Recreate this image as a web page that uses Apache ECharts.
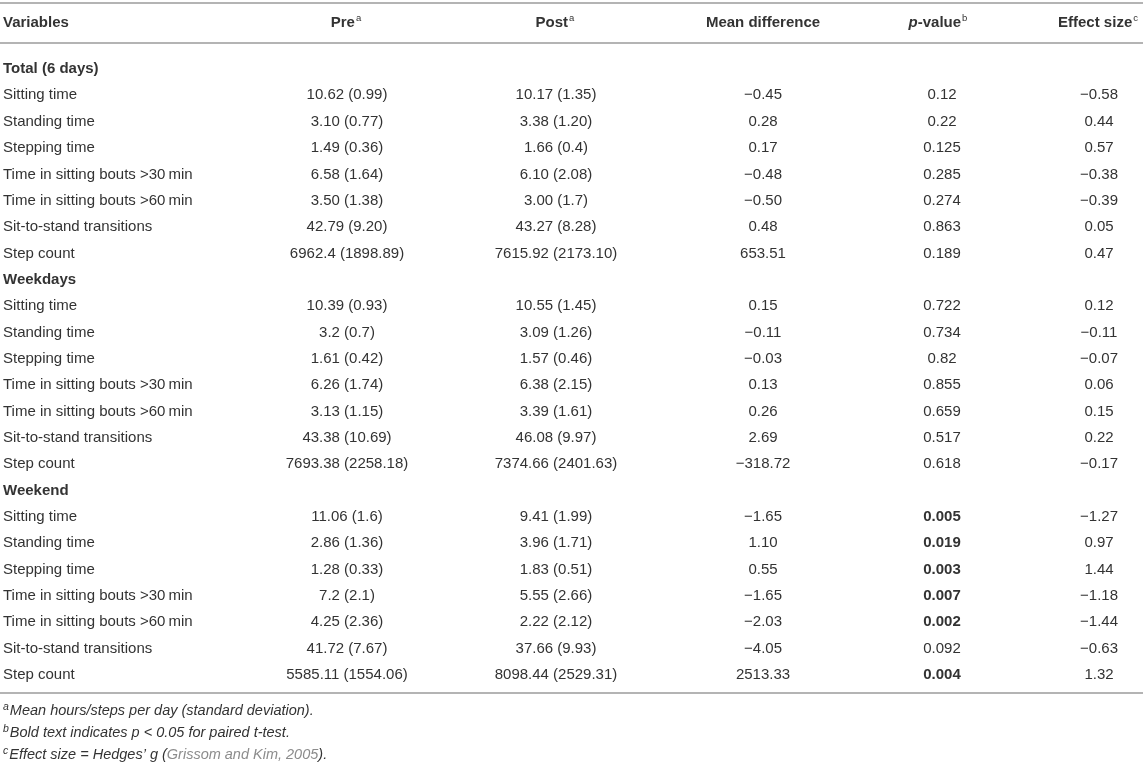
<!DOCTYPE html>
<html>
<head>
<meta charset="utf-8">
<script src="https://cdn.jsdelivr.net/npm/echarts@6/dist/echarts.min.js"></script>
<style>
  html, body { margin: 0; padding: 0; background: #fff; }
  #table-chart { width: 1143px; height: 763px; }
</style>
</head>
<body>
<div id="table-chart"></div>
<script>
var sections = ['Total (6 days)', 'Weekdays', 'Weekend'];
var variables = ['Sitting time', 'Standing time', 'Stepping time',
    'Time in sitting bouts >30\u2009min', 'Time in sitting bouts >60\u2009min',
    'Sit-to-stand transitions', 'Step count'];

// one array per section, rows follow the variables list
var preValues = [
    ['10.62 (0.99)', '3.10 (0.77)', '1.49 (0.36)', '6.58 (1.64)', '3.50 (1.38)', '42.79 (9.20)', '6962.4 (1898.89)'],
    ['10.39 (0.93)', '3.2 (0.7)', '1.61 (0.42)', '6.26 (1.74)', '3.13 (1.15)', '43.38 (10.69)', '7693.38 (2258.18)'],
    ['11.06 (1.6)', '2.86 (1.36)', '1.28 (0.33)', '7.2 (2.1)', '4.25 (2.36)', '41.72 (7.67)', '5585.11 (1554.06)']
];
var postValues = [
    ['10.17 (1.35)', '3.38 (1.20)', '1.66 (0.4)', '6.10 (2.08)', '3.00 (1.7)', '43.27 (8.28)', '7615.92 (2173.10)'],
    ['10.55 (1.45)', '3.09 (1.26)', '1.57 (0.46)', '6.38 (2.15)', '3.39 (1.61)', '46.08 (9.97)', '7374.66 (2401.63)'],
    ['9.41 (1.99)', '3.96 (1.71)', '1.83 (0.51)', '5.55 (2.66)', '2.22 (2.12)', '37.66 (9.93)', '8098.44 (2529.31)']
];
var meanDiff = [
    ['\u22120.45', '0.28', '0.17', '\u22120.48', '\u22120.50', '0.48', '653.51'],
    ['0.15', '\u22120.11', '\u22120.03', '0.13', '0.26', '2.69', '\u2212318.72'],
    ['\u22121.65', '1.10', '0.55', '\u22121.65', '\u22122.03', '\u22124.05', '2513.33']
];
var pValues = [
    ['0.12', '0.22', '0.125', '0.285', '0.274', '0.863', '0.189'],
    ['0.722', '0.734', '0.82', '0.855', '0.659', '0.517', '0.618'],
    ['0.005', '0.019', '0.003', '0.007', '0.002', '0.092', '0.004']
];
var effectSize = [
    ['\u22120.58', '0.44', '0.57', '\u22120.38', '\u22120.39', '0.05', '0.47'],
    ['0.12', '\u22120.11', '\u22120.07', '0.06', '0.15', '0.22', '\u22120.17'],
    ['\u22121.27', '0.97', '1.44', '\u22121.18', '\u22121.44', '\u22120.63', '1.32']
];

// layout (pixel x of each column)
var colX = [3, 347, 556, 763, 942, 1099];
var FONT = '"Liberation Sans", Arial, Helvetica, sans-serif';
var SIZE = 15;
var TEXT = '#333';
var RULE = '#b4b4b4';
var ROW_H = 26.35;

var rowNames = [];
var cells = [];
sections.forEach(function (sec, s) {
    var r = rowNames.length;
    rowNames.push(sec);
    cells.push({value: [colX[0], r], text: sec, kind: 'section'});
    variables.forEach(function (v, i) {
        var row = rowNames.length;
        rowNames.push(sec + ' / ' + v);
        cells.push({value: [colX[0], row], text: v, kind: 'label'});
        cells.push({value: [colX[1], row], text: preValues[s][i], kind: 'num'});
        cells.push({value: [colX[2], row], text: postValues[s][i], kind: 'num'});
        cells.push({value: [colX[3], row], text: meanDiff[s][i], kind: 'num'});
        cells.push({value: [colX[4], row], text: pValues[s][i],
            kind: parseFloat(pValues[s][i]) < 0.05 ? 'sig' : 'num'});
        cells.push({value: [colX[5], row], text: effectSize[s][i], kind: 'num'});
    });
});

function headerText(x, y, parts, align) {
    return {
        type: 'text', x: x, y: y, silent: true,
        style: {
            text: parts, align: align, verticalAlign: 'middle',
            fill: TEXT, font: 'bold ' + SIZE + 'px ' + FONT,
            rich: {
                h: {fontFamily: FONT, fontWeight: 'bold', fontSize: SIZE, fill: TEXT},
                hi: {fontFamily: FONT, fontWeight: 'bold', fontStyle: 'italic', fontSize: SIZE, fill: TEXT},
                sup: {fontFamily: FONT, fontSize: 9.5, fill: TEXT, padding: [0, 0, 9, 1]}
            }
        }
    };
}

function rule(y) {
    return {
        type: 'line', silent: true,
        shape: {x1: 0, y1: y, x2: 1143, y2: y},
        style: {stroke: RULE, lineWidth: 2}
    };
}

function footnote(y, parts) {
    return {
        type: 'text', x: 3, y: y, silent: true,
        style: {
            text: parts, align: 'left', verticalAlign: 'middle',
            fill: TEXT, font: 'italic 14.5px ' + FONT,
            rich: {
                f: {fontFamily: FONT, fontStyle: 'italic', fontSize: 14.5, fill: TEXT},
                g: {fontFamily: FONT, fontStyle: 'italic', fontSize: 14.5, fill: '#8c8c8c'},
                sup: {fontFamily: FONT, fontStyle: 'italic', fontSize: 10.5, fill: TEXT, padding: [0, 1, 7, 0]}
            }
        }
    };
}

var tableChart = echarts.init(document.getElementById('table-chart'));
var tableOption = {
    backgroundColor: '#fff',
    animation: false,
    grid: {
        left: 0, right: 0,
        top: 69 - ROW_H / 2, height: ROW_H * rowNames.length,
        containLabel: false, outerBoundsMode: 'none'
    },
    xAxis: {type: 'value', min: 0, max: 1143, show: false},
    yAxis: {type: 'category', data: rowNames, inverse: true, show: false},
    graphic: [
        rule(3), rule(43), rule(693),
        headerText(3, 23, '{h|Variables}', 'left'),
        headerText(346, 23, '{h|Pre}{sup|a}', 'center'),
        headerText(555, 23, '{h|Post}{sup|a}', 'center'),
        headerText(763, 23, '{h|Mean difference}', 'center'),
        headerText(938, 23, '{hi|p}{h|-value}{sup|b}', 'center'),
        headerText(1098, 23, '{h|Effect size}{sup|c}', 'center'),
        footnote(711, '{sup|a}{f|Mean hours/steps per day (standard deviation).}'),
        footnote(733, '{sup|b}{f|Bold text indicates p < 0.05 for paired t-test.}'),
        footnote(755, '{sup|c}{f|Effect size = Hedges\u2019 g (}{g|Grissom and Kim, 2005}{f|).}')
    ],
    series: [{
        type: 'custom',
        coordinateSystem: 'cartesian2d',
        data: cells,
        renderItem: function (params, api) {
            var cell = cells[params.dataIndex];
            var p = api.coord([api.value(0), api.value(1)]);
            var left = cell.kind === 'section' || cell.kind === 'label';
            var bold = cell.kind === 'section' || cell.kind === 'sig';
            return {
                type: 'text',
                x: p[0], y: p[1],
                style: {
                    text: cell.text,
                    align: left ? 'left' : 'center',
                    verticalAlign: 'middle',
                    fill: TEXT,
                    font: (bold ? 'bold ' : '') + SIZE + 'px ' + FONT
                }
            };
        }
    }]
};
tableChart.setOption(tableOption);
window.onresize = tableChart.resize;
</script>
</body>
</html>
